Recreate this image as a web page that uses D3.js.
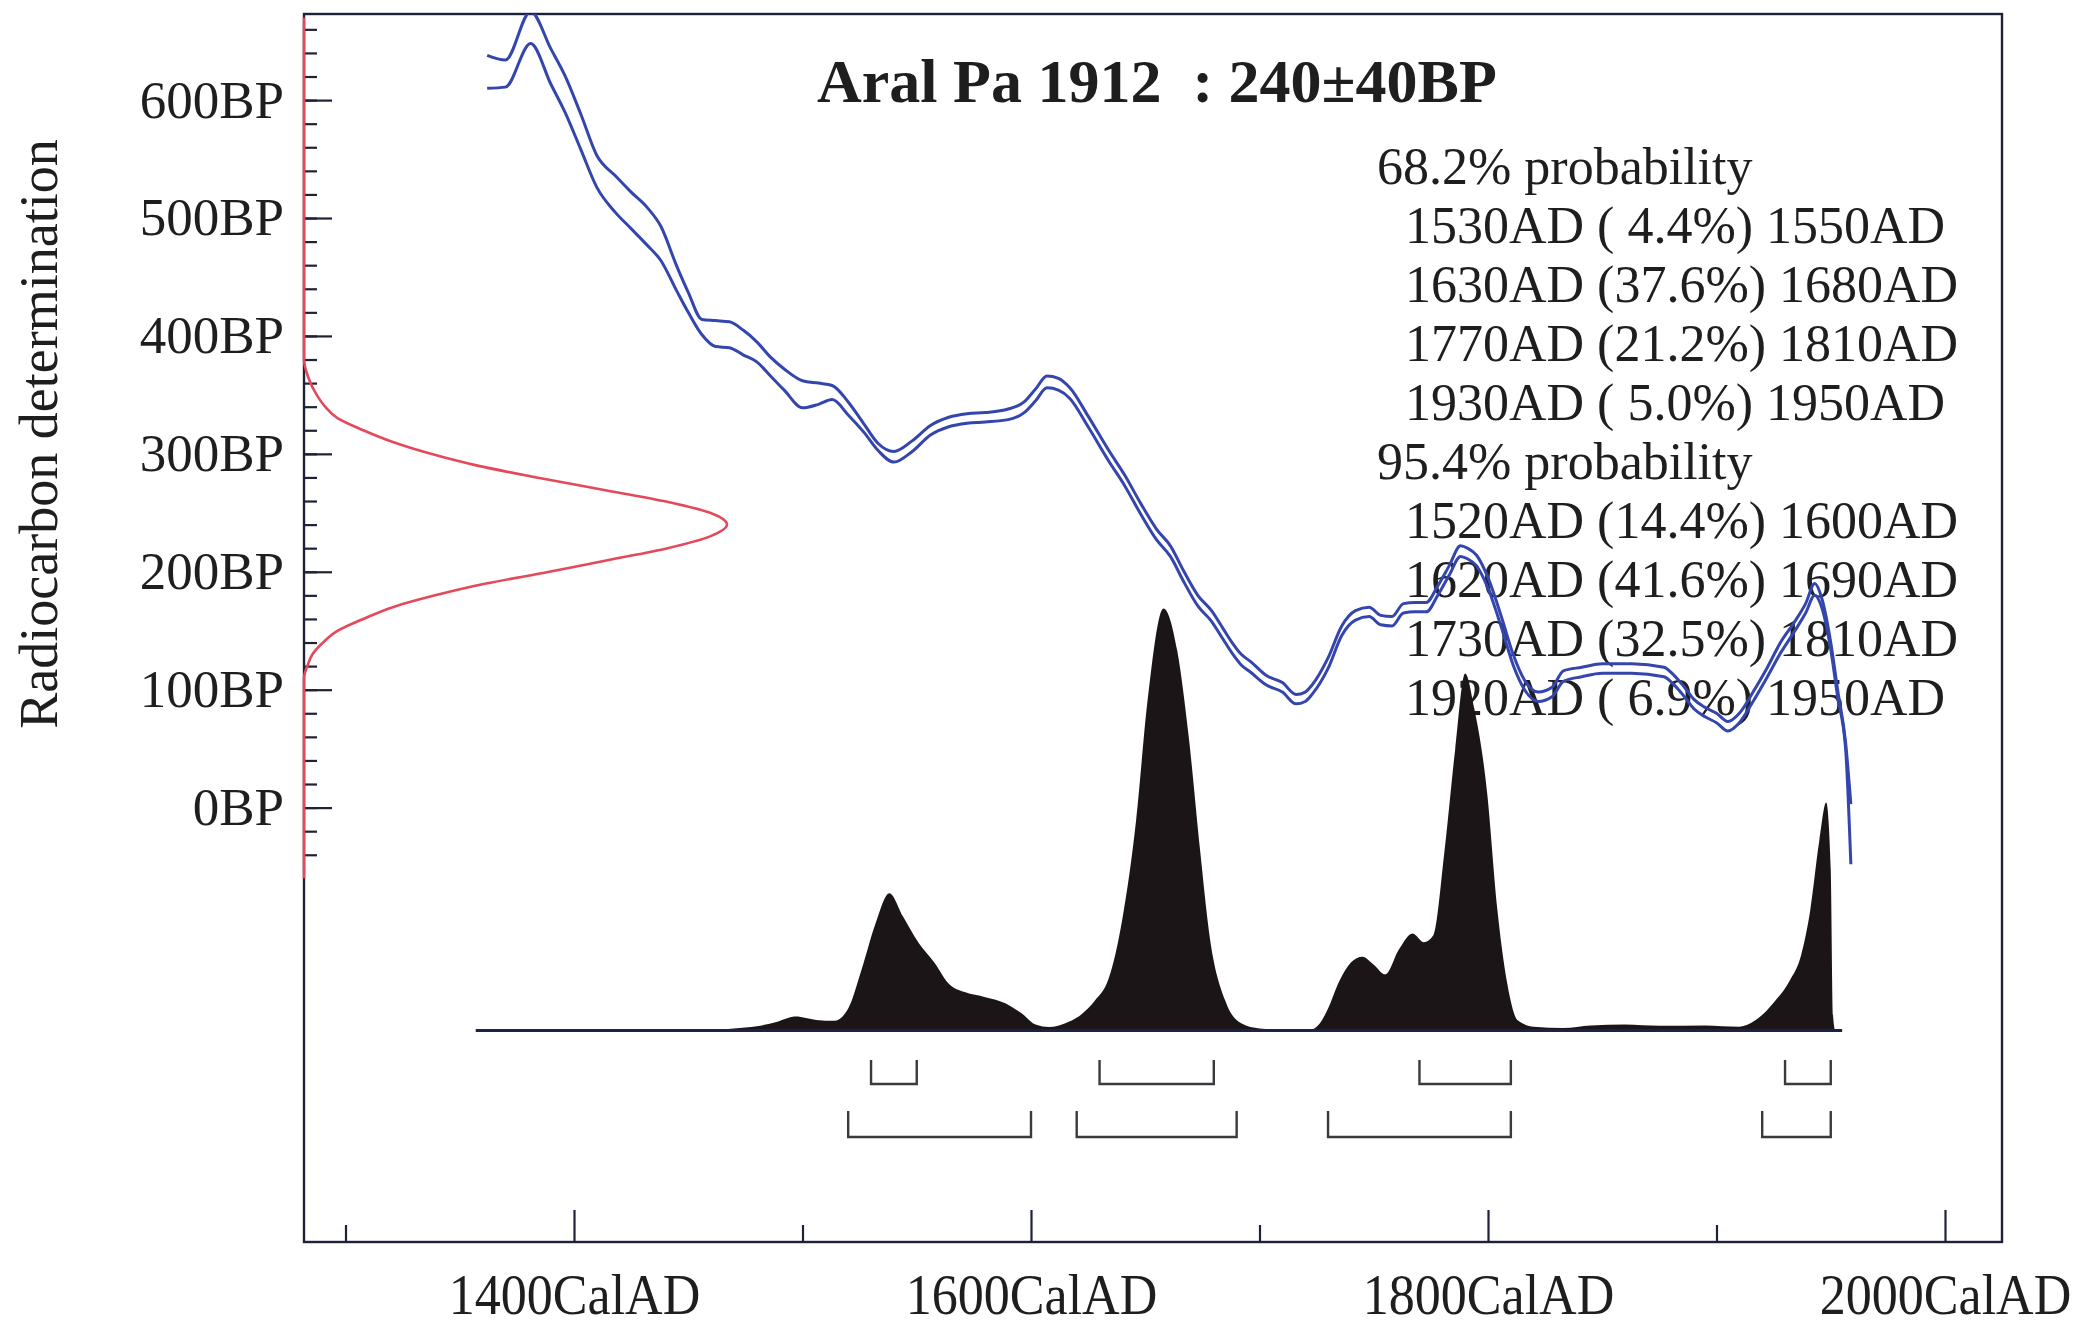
<!DOCTYPE html>
<html>
<head>
<meta charset="utf-8">
<script src="https://cdn.jsdelivr.net/npm/d3@7"></script>
<style>
  body { margin: 0; background: #fff; }
  text { font-family: "Liberation Serif", "DejaVu Serif", serif; fill: #1e1e1e; white-space: pre; }
</style>
</head>
<body>
<div id="chart"></div>
<script>
var svgWidth = 2093;
var svgHeight = 1328;

// plot frame in pixels
var frame = { left: 304, right: 2002, top: 14, bottom: 1242 };

// calibration curve, upper and lower 1 sigma lines (BP)
var calYear = [1362, 1370, 1381, 1390, 1396, 1403, 1410, 1418, 1425, 1432, 1438, 1445, 1450, 1456, 1462, 1468,
  1474, 1480, 1486, 1492, 1500, 1507, 1513, 1520, 1527, 1533, 1540, 1548, 1556, 1564, 1572, 1580, 1590, 1597,
  1602, 1607, 1612, 1617, 1625, 1634, 1641, 1648, 1655, 1661, 1667, 1673, 1679, 1684, 1688, 1692, 1696, 1703,
  1710, 1716, 1720, 1723, 1730, 1736, 1742, 1748, 1753, 1758, 1763, 1768, 1773, 1778, 1783, 1788, 1791, 1795,
  1800, 1806, 1811, 1816, 1822, 1828, 1833, 1841, 1850, 1863, 1877, 1881, 1886, 1890, 1895, 1900, 1905, 1910,
  1916, 1922, 1928, 1934, 1939, 1943, 1946, 1950, 1953, 1956.5, 1958.8];
var calUpper = [638, 634, 675, 643, 621, 588, 553, 536, 522, 509, 493, 459, 437, 414, 413, 412,
  405, 395, 382, 372, 362, 360, 358, 344, 325, 309, 302, 311, 324, 331, 334, 335, 338, 344,
  355, 366, 364, 356, 332, 303, 282, 258, 236, 222, 200, 180, 167, 152, 140, 130, 124, 112,
  106, 96, 98, 104, 127, 154, 167, 170, 163, 162, 173, 174, 174, 188, 205, 222, 220, 214,
  195, 161, 130, 108, 98, 102, 116, 119, 122, 122, 119, 113, 102, 92, 85, 80, 73, 80,
  98, 118, 140, 157, 173, 190, 178, 140, 100, 55, 3];
var calLower = [610, 611, 648, 613, 590, 558, 526, 505, 491, 477, 464, 438, 420, 401, 391, 390,
  384, 378, 366, 354, 339, 342, 346, 333, 318, 303, 293, 302, 316, 323, 326, 327, 329, 335,
  345, 356, 354, 347, 323, 294, 273, 249, 227, 213, 191, 171, 158, 143, 131, 121, 115, 104,
  98, 88, 90, 96, 118, 146, 159, 162, 155, 154, 165, 166, 166, 180, 197, 213, 211, 205,
  186, 152, 121, 100, 90, 94, 107, 111, 114, 114, 111, 105, 94, 84, 77, 72, 65, 72,
  90, 110, 131, 149, 165, 180, 170, 134, 94, 50, -48];

// radiocarbon determination 240 +/- 40 BP (red curve), relative density
var detBP = [670, 380, 365, 350, 340, 330, 320, 310, 300, 290, 280, 270, 260, 250, 240,
  230, 220, 210, 200, 190, 180, 170, 160, 150, 140, 130, 120, 110, -60];
var detDensity = [0, 0, 0.01, 0.03, 0.05, 0.08, 0.14, 0.21, 0.30, 0.41, 0.55, 0.70, 0.85, 0.96, 1.0,
  0.96, 0.86, 0.72, 0.58, 0.43, 0.31, 0.21, 0.14, 0.08, 0.045, 0.02, 0.008, 0, 0];

// calibrated date, relative probability (black)
var distYear = [1357, 1455, 1470, 1480, 1489, 1497, 1506, 1514, 1520, 1526, 1532, 1538, 1544, 1551, 1558,
  1564, 1571, 1580, 1589, 1596, 1602, 1608, 1615, 1622, 1628, 1634, 1640, 1646, 1651, 1658, 1664, 1669,
  1674, 1678, 1685, 1692, 1700, 1722, 1726, 1730, 1735, 1740, 1745, 1750, 1755, 1761, 1767, 1772, 1776,
  1781, 1785.6, 1790, 1794, 1799.6, 1804, 1808.5, 1813, 1820, 1833, 1845, 1860, 1875, 1895, 1910, 1917,
  1925, 1932, 1937, 1941, 1945, 1948, 1950, 1951, 1952, 1955];
var distProb = [0, 0, 0.005, 0.01, 0.021, 0.033, 0.025, 0.023, 0.052, 0.147, 0.254, 0.325, 0.27, 0.206, 0.159,
  0.111, 0.091, 0.079, 0.064, 0.04, 0.014, 0.008, 0.017, 0.038, 0.071, 0.123, 0.265, 0.498, 0.782, 1.0, 0.9, 0.697,
  0.427, 0.23, 0.071, 0.017, 0.005, 0.001, 0.014, 0.052, 0.118, 0.161, 0.175, 0.156, 0.133, 0.192, 0.23, 0.209, 0.225,
  0.427, 0.664, 0.846, 0.763, 0.564, 0.291, 0.109, 0.024, 0.009, 0.006, 0.012, 0.014, 0.011, 0.012, 0.009, 0.024,
  0.066, 0.118, 0.178, 0.284, 0.45, 0.54, 0.38, 0.036, 0, 0];

// probability ranges
var range68Start = [1530, 1630, 1770, 1930];
var range68End = [1550, 1680, 1810, 1950];
var range68Pct = [4.4, 37.6, 21.2, 5.0];
var range95Start = [1520, 1620, 1730, 1920];
var range95End = [1600, 1690, 1810, 1950];
var range95Pct = [14.4, 41.6, 32.5, 6.9];

var yTicksMajor = [0, 100, 200, 300, 400, 500, 600];
var yTicksMinor = d3.range(-40, 661, 20);
var xTicksMajor = [1400, 1600, 1800, 2000];
var xTicksMinor = [1300, 1500, 1700, 1900];

var titleText = "Aral Pa 1912  : 240\u00b140BP";

var x = d3.scaleLinear().domain([1400, 2000]).range([574, 1945]);
var y = d3.scaleLinear().domain([0, 600]).range([807.6, 100.1]);
var distY = d3.scaleLinear().domain([0, 1]).range([1030.5, 608.5]);
var detX = d3.scaleLinear().domain([0, 1]).range([frame.left, frame.left + 423]);

var svg = d3.select("#chart").append("svg")
  .attr("width", svgWidth)
  .attr("height", svgHeight);

svg.append("rect")
  .attr("width", svgWidth)
  .attr("height", svgHeight)
  .attr("fill", "#fff");

// title and range text
svg.append("text")
  .attr("x", 817)
  .attr("y", 102)
  .attr("font-size", 62)
  .attr("font-weight", "bold")
  .text(titleText);

var pctFormat = function(v) {
  var s = d3.format(".1f")(v);
  return s.length < 4 ? " " + s : s;
};

var textLines = [{ t: "68.2% probability", head: true }];
range68Start.forEach(function(d, i) {
  textLines.push({ t: d + "AD (" + pctFormat(range68Pct[i]) + "%) " + range68End[i] + "AD" });
});
textLines.push({ t: "95.4% probability", head: true });
range95Start.forEach(function(d, i) {
  textLines.push({ t: d + "AD (" + pctFormat(range95Pct[i]) + "%) " + range95End[i] + "AD" });
});

svg.append("g").selectAll("text")
  .data(textLines)
  .enter()
  .append("text")
  .attr("x", d => d.head ? 1377 : 1405)
  .attr("y", (d, i) => 184 + i * 59)
  .attr("font-size", 52)
  .text(d => d.t);

// frame
svg.append("rect")
  .attr("x", frame.left)
  .attr("y", frame.top)
  .attr("width", frame.right - frame.left)
  .attr("height", frame.bottom - frame.top)
  .attr("fill", "none")
  .attr("stroke", "#1f2236")
  .attr("stroke-width", 2.4);

// y axis
var yAxisMinor = d3.axisLeft(y).tickValues(yTicksMinor).tickSizeInner(-13).tickSizeOuter(0).tickFormat("");
var yAxisMajor = d3.axisLeft(y).tickValues(yTicksMajor).tickSizeInner(-28).tickSizeOuter(0)
  .tickPadding(20).tickFormat(d => d + "BP");

svg.append("g")
  .attr("transform", `translate(${frame.left},0)`)
  .call(yAxisMinor)
  .call(g => g.select(".domain").remove())
  .selectAll("line").attr("stroke", "#1f2236").attr("stroke-width", 2.2);

var yAxisG = svg.append("g")
  .attr("transform", `translate(${frame.left},0)`)
  .call(yAxisMajor)
  .call(g => g.select(".domain").remove());
yAxisG.attr("font-family", null).attr("font-size", null);
yAxisG.selectAll("line").attr("stroke", "#1f2236").attr("stroke-width", 2.2);
yAxisG.selectAll("text").attr("font-size", 53).attr("fill", "#1e1e1e");

// x axis
var xAxisMinor = d3.axisBottom(x).tickValues(xTicksMinor).tickSizeInner(-17).tickSizeOuter(0).tickFormat("");
var xAxisMajor = d3.axisBottom(x).tickValues(xTicksMajor).tickSizeInner(-32).tickSizeOuter(0)
  .tickPadding(32).tickFormat(d => d + "CalAD");

svg.append("g")
  .attr("transform", `translate(0,${frame.bottom})`)
  .call(xAxisMinor)
  .call(g => g.select(".domain").remove())
  .selectAll("line").attr("stroke", "#1f2236").attr("stroke-width", 2.2);

var xAxisG = svg.append("g")
  .attr("transform", `translate(0,${frame.bottom})`)
  .call(xAxisMajor)
  .call(g => g.select(".domain").remove());
xAxisG.attr("font-family", null).attr("font-size", null);
xAxisG.selectAll("line").attr("stroke", "#1f2236").attr("stroke-width", 2.2);
xAxisG.selectAll("text")
  .attr("font-size", 56)
  .attr("fill", "#1e1e1e")
  .attr("transform", "scale(0.93,1)");

// y axis title
svg.append("text")
  .attr("transform", "translate(57,434) rotate(-90)")
  .attr("text-anchor", "middle")
  .attr("font-size", 54)
  .text("Radiocarbon determination");

// calibrated distribution
var distData = distYear.map((d, i) => ({ year: d, p: distProb[i] }));

var area = d3.area()
  .x(d => x(d.year))
  .y0(distY(0))
  .y1(d => distY(d.p))
  .curve(d3.curveMonotoneX);

svg.append("path")
  .datum(distData)
  .attr("d", area)
  .attr("fill", "#1b1517");

svg.append("line")
  .attr("x1", x(distYear[0]))
  .attr("x2", x(distYear[distYear.length - 1]))
  .attr("y1", distY(0))
  .attr("y2", distY(0))
  .attr("stroke", "#1d2245")
  .attr("stroke-width", 3);

// range brackets
function bracketPath(s, e, top, bottom) {
  return `M${x(s)},${top}V${bottom}H${x(e)}V${top}`;
}

svg.append("g").selectAll("path")
  .data(range68Start)
  .enter()
  .append("path")
  .attr("d", (d, i) => bracketPath(d, range68End[i], 1060, 1084))
  .attr("fill", "none")
  .attr("stroke", "#3a3a3e")
  .attr("stroke-width", 2.4);

svg.append("g").selectAll("path")
  .data(range95Start)
  .enter()
  .append("path")
  .attr("d", (d, i) => bracketPath(d, range95End[i], 1111, 1137))
  .attr("fill", "none")
  .attr("stroke", "#3a3a3e")
  .attr("stroke-width", 2.4);

// red determination curve along the y axis
var detData = detBP.map((d, i) => ({ bp: d, v: detDensity[i] }));

svg.append("path")
  .datum(detData)
  .attr("d", d3.line().x(d => detX(d.v)).y(d => y(d.bp)).curve(d3.curveMonotoneY))
  .attr("fill", "none")
  .attr("stroke", "#e5485a")
  .attr("stroke-width", 2.6);

// calibration curve
svg.append("clipPath")
  .attr("id", "plotClip")
  .append("rect")
  .attr("x", frame.left)
  .attr("y", frame.top)
  .attr("width", frame.right - frame.left)
  .attr("height", frame.bottom - frame.top);

var calLine = function(values) {
  return d3.line()
    .x((d, i) => x(calYear[i]))
    .y(d => y(d))
    .curve(d3.curveMonotoneX)(values);
};

[calUpper, calLower].forEach(function(series) {
  svg.append("path")
    .attr("d", calLine(series))
    .attr("clip-path", "url(#plotClip)")
    .attr("fill", "none")
    .attr("stroke", "#3446ad")
    .attr("stroke-width", 3);
});
</script>
</body>
</html>
